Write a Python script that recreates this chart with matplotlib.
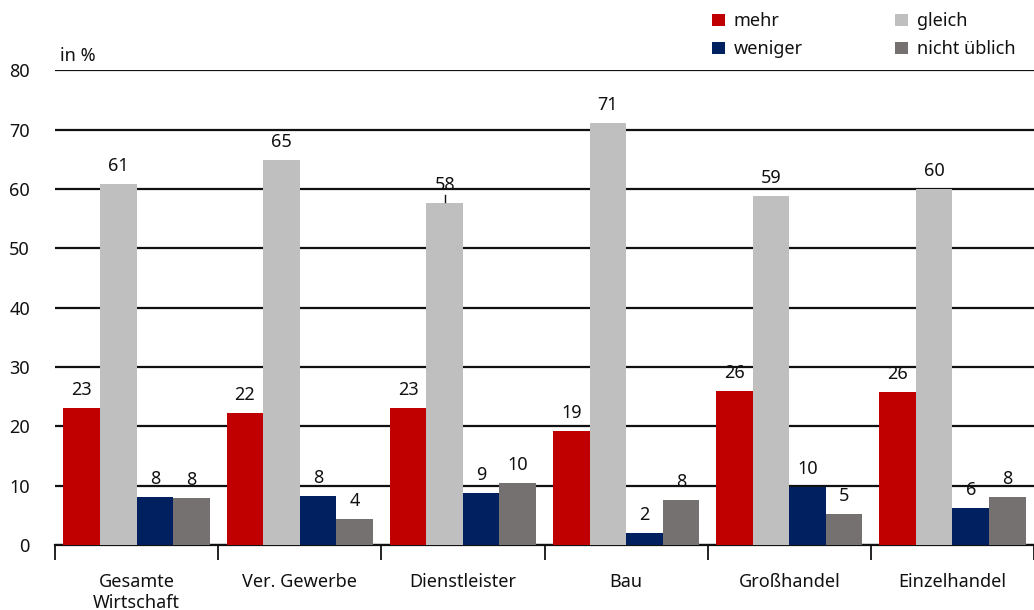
import numpy as np
import matplotlib.pyplot as plt

# Daten
kategorien = ['Gesamte\nWirtschaft', 'Ver. Gewerbe', 'Dienstleister', 'Bau', 'Großhandel', 'Einzelhandel']
mehr = [23.1, 22.3, 23.1, 19.3, 26.0, 25.8]
gleich = [60.9, 64.9, 57.6, 71.1, 58.9, 60.0]
weniger = [8.1, 8.2, 8.8, 2.0, 9.8, 6.2]
nicht_ueblich = [7.9, 4.3, 10.4, 7.6, 5.2, 8.1]

serien = ['mehr', 'gleich', 'weniger', 'nicht üblich']
farben = ['#C00000', '#BFBFBF', '#002060', '#767171']

plt.rcParams['font.family'] = ['Noto Sans', 'DejaVu Sans']


def draw_bars():
    fig = plt.figure(figsize=(10.34, 6.10), dpi=100)
    ax = fig.add_axes([55 / 1034, 65 / 610, 1 - 55 / 1034, 475.5 / 610])

    x = np.arange(len(kategorien))
    breite = 0.224
    werte = [mehr, gleich, weniger, nicht_ueblich]
    handles = []
    for i, (w, f, name) in enumerate(zip(werte, farben, serien)):
        pos = x + (i - 1.5) * breite
        b = ax.bar(pos, w, width=breite, color=f, label=name, zorder=3)
        handles.append(b)
        for xp, v in zip(pos, w):
            ax.annotate(f'{round(v):d}', (xp, v), xytext=(0, 9), textcoords='offset pixels',
                        ha='center', va='bottom', fontsize=13, color='#111111')

    # kleine Hinweislinie bei Dienstleister / gleich
    xd = x[2] - 0.5 * breite
    ax.plot([xd, xd], [gleich[2] + 0.3, gleich[2] + 1.4], color='#111111', lw=1, zorder=4)

    ax.set_xlim(-0.5, len(kategorien) - 0.5)
    ax.set_ylim(0, 80.15)
    ax.set_yticks(range(0, 81, 10))
    ax.yaxis.grid(True, color='#111111', linewidth=1.6)
    ax.set_axisbelow(True)
    ax.tick_params(axis='y', length=0, pad=18, labelsize=13, labelcolor='#111111')

    ax.set_xticks(x)
    ax.set_xticklabels(kategorien, fontsize=13, color='#111111')
    ax.set_xticks(np.arange(-0.5, len(kategorien), 1.0), minor=True)
    ax.tick_params(axis='x', which='major', length=0, pad=20)
    ax.tick_params(axis='x', which='minor', length=11, width=1.3, color='#111111')

    for s in ['top', 'right', 'left']:
        ax.spines[s].set_visible(False)
    ax.spines['bottom'].set_color('#111111')
    ax.spines['bottom'].set_linewidth(1.6)

    fig.text(60 / 1034, 1 - 56 / 610, 'in %', fontsize=13, color='#111111', va='center')

    # Reihenfolge so, dass die Zeilen "mehr / gleich" und "weniger / nicht üblich" lauten
    reihenfolge = [0, 2, 1, 3]
    leg = fig.legend(handles=[handles[i] for i in reihenfolge], loc='upper left',
                     bbox_to_anchor=(696 / 1034, 1 + 4 / 610),
                     ncol=2, frameon=False, fontsize=13, handlelength=0.7, handleheight=0.7,
                     handletextpad=0.5, columnspacing=5.1, labelspacing=0.55)
    for t in leg.get_texts():
        t.set_color('#111111')

    fig.savefig('out.png', dpi=100)


if __name__ == '__main__':
    draw_bars()
